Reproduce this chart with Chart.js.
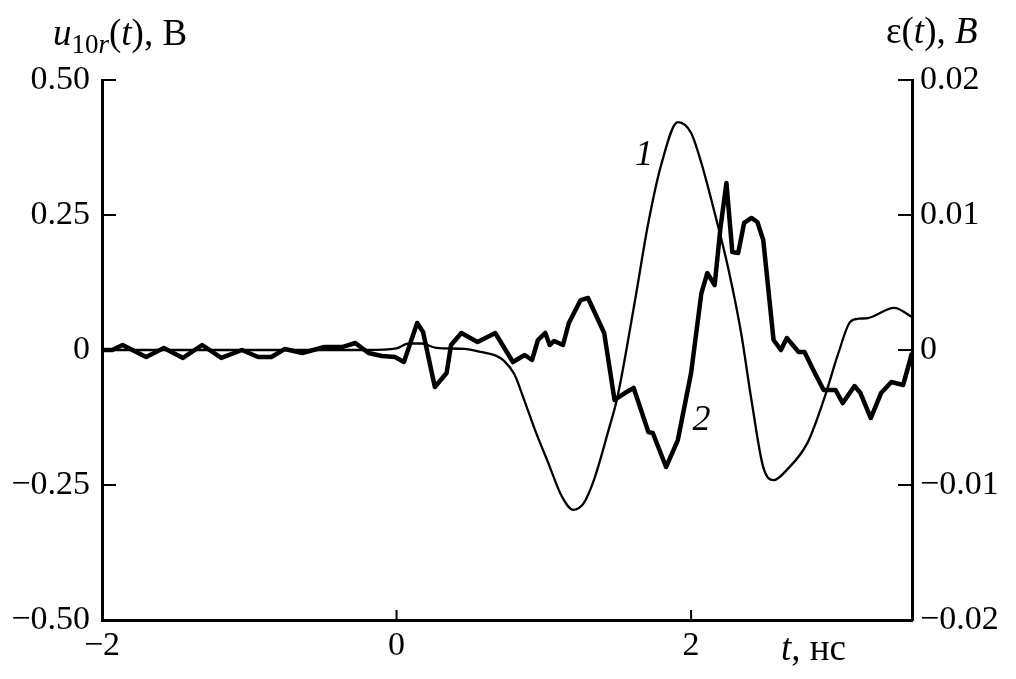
<!DOCTYPE html>
<html>
<head>
<meta charset="utf-8">
<script src="https://cdn.jsdelivr.net/npm/chart.js@4.4.1/dist/chart.umd.min.js"></script>
<style>
  html, body { margin: 0; padding: 0; background: #fff; }
  #wrap { width: 1016px; height: 679px; }
</style>
</head>
<body>
<div id="wrap"><canvas id="grafica" width="1016" height="679"></canvas></div>
<script>
// curva 1: u10r(t), eje izquierdo (В)
const tiempo1 = [-2, -1, -0.2, 0, 0.08, 0.17, 0.27, 0.46, 0.58, 0.67, 0.73, 0.8, 0.87, 0.94, 1.03, 1.12, 1.2, 1.27, 1.34, 1.44, 1.5,
  1.62, 1.71, 1.8, 1.91, 2.0, 2.07, 2.16, 2.25, 2.34, 2.41, 2.49, 2.56, 2.65, 2.79, 2.9, 3.0, 3.08, 3.14, 3.2, 3.38, 3.5];
const valores1 = [0, 0, 0, 0.003, 0.012, 0.012, 0.004, 0.002, -0.004, -0.01, -0.02, -0.045, -0.095, -0.148, -0.209, -0.27, -0.296, -0.284, -0.241, -0.148, -0.087,
  0.093, 0.236, 0.346, 0.422, 0.402, 0.346, 0.254, 0.154, 0.031, -0.093, -0.217, -0.241, -0.222, -0.172, -0.093, -0.006, 0.052, 0.058, 0.059, 0.078, 0.061];

// curva 2: ε(t), eje derecho (В)
const tiempo2 = [-2, -1.93, -1.86, -1.7, -1.58, -1.45, -1.32, -1.19, -1.05, -0.94, -0.85, -0.76, -0.64, -0.49, -0.37, -0.28, -0.19, -0.1, -0.01,
  0.05, 0.14, 0.18, 0.26, 0.34, 0.37, 0.44, 0.55, 0.67, 0.79, 0.87, 0.92, 0.96, 1.01, 1.04, 1.07, 1.13, 1.17, 1.25, 1.3, 1.41,
  1.48, 1.55, 1.61, 1.71, 1.74, 1.83, 1.91, 2.0, 2.07, 2.11, 2.16, 2.2, 2.24, 2.28, 2.32, 2.36, 2.41, 2.45, 2.49, 2.56, 2.61,
  2.65, 2.73, 2.77, 2.84, 2.9, 2.98, 3.03, 3.11, 3.15, 3.22, 3.29, 3.36, 3.44, 3.5];
const valores2 = [0, 0, 0.00037, -0.00052, 0.00015, -0.00059, 0.00037, -0.00059, 0, -0.00052, -0.00052, 0.00007, -0.00022, 0.00022, 0.00022, 0.00052, -0.00022, -0.00044, -0.00052,
  -0.00089, 0.002, 0.00133, -0.00274, -0.0017, 0.00037, 0.00126, 0.00059, 0.00126, -0.00089, -0.00037, -0.00074, 0.00074, 0.00126, 0.00037, 0.00067, 0.00037, 0.002, 0.0037, 0.00385, 0.00126,
  -0.0037, -0.00319, -0.00281, -0.00607, -0.00615, -0.00867, -0.00667, -0.0017, 0.00422, 0.0057, 0.00481, 0.00911, 0.01237, 0.00726, 0.00719, 0.00941, 0.00978, 0.00948, 0.00815, 0.00074, 0,
  0.00089, -0.00015, -0.00015, -0.0017, -0.00296, -0.00296, -0.00393, -0.00267, -0.00319, -0.00504, -0.00319, -0.00237, -0.00259, -0.00022];

// marcas de los ejes
const ticksX = [-2, 0, 2];
const ticksIzq = [-0.5, -0.25, 0, 0.25, 0.5];
const ticksDer = [-0.02, -0.01, 0, 0.01, 0.02];

const fuente = "'Liberation Serif', 'Times New Roman', serif";

function menos(texto) {
    return texto.replace("-", "\u2212");
}

// dibuja un texto por partes (normal / cursiva / subindice)
function textoPartes(ctx, x, y, partes) {
    partes.forEach(p => {
        ctx.font = (p.italic ? "italic " : "") + p.size + "px " + fuente;
        ctx.fillText(p.t, x, y + (p.dy || 0));
        x += ctx.measureText(p.t).width;
    });
}

// marcas hacia adentro y rotulos
const pluginRotulos = {
    id: "rotulos",
    afterDraw(chart) {
        const ctx = chart.ctx;
        const area = chart.chartArea;
        const sx = chart.scales.x;
        const sy = chart.scales.y;
        const sy2 = chart.scales.y2;
        ctx.save();
        ctx.strokeStyle = "#000";
        ctx.lineWidth = 2;
        ctx.beginPath();
        ticksIzq.forEach(v => {
            const y = sy.getPixelForValue(v);
            ctx.moveTo(area.left, y);
            ctx.lineTo(area.left + 14, y);
        });
        ticksDer.forEach(v => {
            const y = sy2.getPixelForValue(v);
            ctx.moveTo(area.right - 14, y);
            ctx.lineTo(area.right, y);
        });
        ticksX.forEach(v => {
            const x = sx.getPixelForValue(v);
            ctx.moveTo(x, area.bottom);
            ctx.lineTo(x, area.bottom - 10);
        });
        ctx.stroke();

        ctx.fillStyle = "#000";
        ctx.textBaseline = "alphabetic";
        ctx.textAlign = "left";
        textoPartes(ctx, 53, 45, [
            { t: "u", size: 37, italic: true },
            { t: "10", size: 27, dy: 8 },
            { t: "r", size: 27, italic: true, dy: 8 },
            { t: "(", size: 37 },
            { t: "t", size: 37, italic: true },
            { t: "), В", size: 37 }
        ]);
        textoPartes(ctx, 886, 43, [
            { t: "ε(", size: 37 },
            { t: "t", size: 37, italic: true },
            { t: "), ", size: 37 },
            { t: "В", size: 37, italic: true }
        ]);
        textoPartes(ctx, 781, 660, [
            { t: "t", size: 37, italic: true },
            { t: ", нс", size: 37 }
        ]);

        ctx.textAlign = "center";
        ctx.textBaseline = "middle";
        ctx.font = "italic 36px " + fuente;
        ctx.fillText("1", sx.getPixelForValue(1.68), sy.getPixelForValue(0.361));
        ctx.fillText("2", sx.getPixelForValue(2.07), sy.getPixelForValue(-0.13));
        ctx.restore();
    }
};

const ejeBase = {
    grid: { display: false, drawOnChartArea: false, drawTicks: false },
    border: { display: true, color: "#000", width: 3 },
    ticks: { color: "#000", font: { family: fuente, size: 34 } }
};

new Chart(document.getElementById("grafica"), {
    type: "line",
    data: {
        datasets: [{
            label: "1",
            data: tiempo1.map((t, i) => ({ x: t, y: valores1[i] })),
            yAxisID: "y",
            borderColor: "#000",
            borderWidth: 2.3,
            pointRadius: 0,
            cubicInterpolationMode: "monotone",
            fill: false
        }, {
            label: "2",
            data: tiempo2.map((t, i) => ({ x: t, y: valores2[i] })),
            yAxisID: "y2",
            borderColor: "#000",
            borderWidth: 4.5,
            pointRadius: 0,
            tension: 0,
            borderJoinStyle: "round",
            fill: false
        }]
    },
    options: {
        responsive: false,
        animation: false,
        layout: { padding: { top: 80, left: 0, right: 0, bottom: 0 } },
        plugins: { legend: { display: false }, tooltip: { enabled: false } },
        scales: {
            x: {
                ...ejeBase,
                type: "linear",
                position: "bottom",
                min: -2,
                max: 3.5,
                afterBuildTicks: s => { s.ticks = ticksX.map(v => ({ value: v })); },
                afterFit: s => { s.height = 59; },
                ticks: { ...ejeBase.ticks, padding: 6, maxRotation: 0, callback: v => menos(String(v)) }
            },
            y: {
                ...ejeBase,
                position: "left",
                min: -0.5,
                max: 0.5,
                afterBuildTicks: s => { s.ticks = ticksIzq.map(v => ({ value: v })); },
                afterFit: s => { s.width = 102; },
                ticks: { ...ejeBase.ticks, padding: 12, callback: v => v === 0 ? "0" : menos(v.toFixed(2)) }
            },
            y2: {
                ...ejeBase,
                position: "right",
                min: -0.02,
                max: 0.02,
                afterBuildTicks: s => { s.ticks = ticksDer.map(v => ({ value: v })); },
                afterFit: s => { s.width = 104; },
                ticks: { ...ejeBase.ticks, padding: 8, callback: v => v === 0 ? "0" : menos(v.toFixed(2)) }
            }
        }
    },
    plugins: [pluginRotulos]
});
</script>
</body>
</html>
